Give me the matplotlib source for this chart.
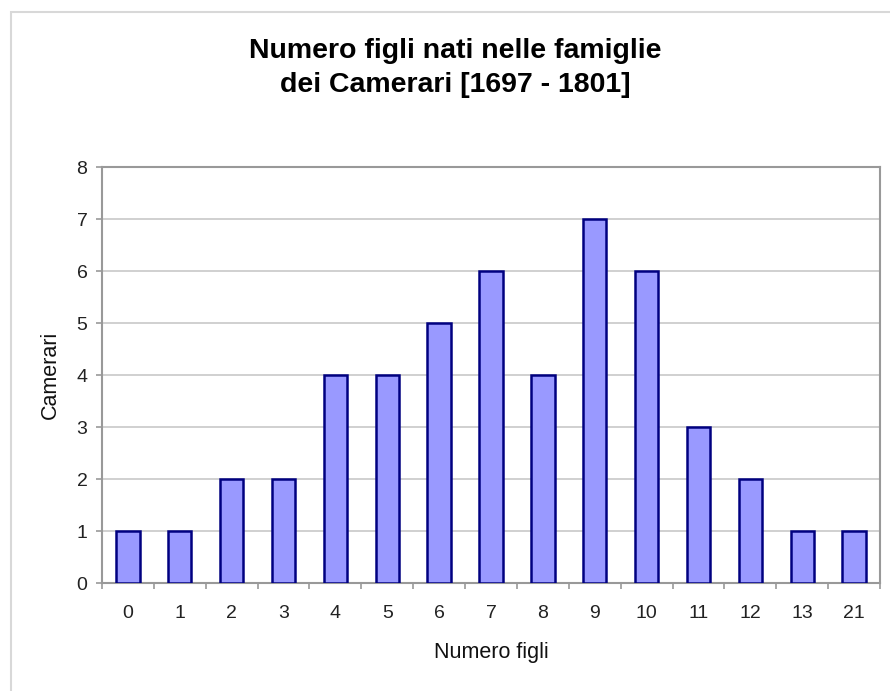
import matplotlib.pyplot as plt
from matplotlib.patches import Rectangle

plt.rcParams['font.family'] = ['Liberation Sans', 'DejaVu Sans']

labels = ['0', '1', '2', '3', '4', '5', '6', '7', '8', '9', '10', '11', '12', '13', '21']
camerari = [1, 1, 2, 2, 4, 4, 5, 6, 4, 7, 6, 3, 2, 1, 1]

fig = plt.figure(figsize=(8.9, 6.91), dpi=100)
# outer chart border (light gray, runs off the right/bottom)
fig.patches.append(Rectangle((11 / 890, -0.1), 1.2, 1 - 12 / 691 + 0.1,
                             transform=fig.transFigure, fill=False,
                             edgecolor='#d8d8d8', linewidth=1.5))

ax = fig.add_axes([102 / 890, 1 - 583 / 691, 778 / 890, 416 / 691])
x = list(range(len(labels)))
ax.bar(x, camerari, width=0.45, color='#9999ff', edgecolor='#000080', linewidth=1.8, zorder=3)

ax.set_xlim(-0.5, len(labels) - 0.5)
ax.set_ylim(0, 8)
ax.set_yticks(range(0, 9))
ax.yaxis.grid(True, color='#c8c8c8', linewidth=1.2, zorder=0)

ax.set_xticks(x)
ax.set_xticklabels(labels)
ax.set_xticks([i - 0.5 for i in range(len(labels) + 1)], minor=True)
ax.tick_params(axis='x', which='major', length=0, pad=16, labelsize=14, colors='#222222')
ax.tick_params(axis='x', which='minor', length=4, width=1.2, color='#999999')
ax.tick_params(axis='y', length=4, width=1.2, color='#999999', labelsize=14,
               labelcolor='#222222', pad=6.5)

for s in ax.spines.values():
    s.set_color('#999999')
    s.set_linewidth(1.5)

ax.set_xlabel('Numero figli', fontsize=15.5, labelpad=14, color='#111111')
ax.set_ylabel('Camerari', fontsize=15.5, labelpad=11, color='#111111')

fig.text(0.512, 1 - 68 / 691, 'Numero figli nati nelle famiglie\ndei Camerari [1697 - 1801]',
         ha='center', va='center', fontsize=20.5, fontweight='bold', linespacing=1.45)

fig.savefig('out.png', dpi=100)
